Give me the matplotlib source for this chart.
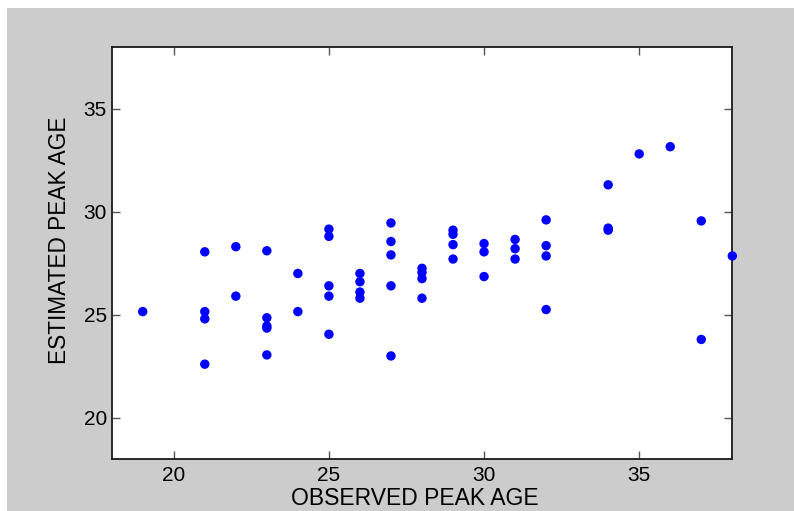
import matplotlib
matplotlib.use("Agg")
import matplotlib.pyplot as plt
from matplotlib.patches import Rectangle

# observed vs estimated peak age
observed = [19,
            21, 21, 21, 21,
            22, 22,
            23, 23, 23, 23, 23,
            24, 24,
            25, 25, 25, 25, 25,
            26, 26, 26, 26,
            27, 27, 27, 27, 27,
            28, 28, 28, 28,
            29, 29, 29, 29,
            30, 30, 30,
            31, 31, 31,
            32, 32, 32, 32,
            34, 34, 34,
            35, 36,
            37, 37,
            38]
estimated = [25.15,
             28.05, 25.15, 24.8, 22.6,
             28.3, 25.9,
             28.1, 24.85, 24.45, 24.35, 23.05,
             27.0, 25.15,
             29.15, 28.8, 26.4, 25.9, 24.05,
             27.0, 26.6, 26.1, 25.8,
             29.45, 28.55, 27.9, 26.4, 23.0,
             27.25, 27.05, 26.75, 25.8,
             29.1, 28.9, 28.4, 27.7,
             28.45, 28.05, 26.85,
             28.65, 28.2, 27.7,
             29.6, 28.35, 27.85, 25.25,
             31.3, 29.2, 29.1,
             32.8, 33.15,
             29.55, 23.8,
             27.85]

xticks = [20, 25, 30, 35]
yticks = [20, 25, 30, 35]

plt.rcParams['font.family'] = ['Liberation Sans', 'DejaVu Sans']

W, H = 794, 511
fig = plt.figure(figsize=(W / 100, H / 100), dpi=100)
fig.patch.set_facecolor('white')
# gray matlab-like figure background, with thin white strip top/left
fig.patches.append(Rectangle((7 / W, 0), 1, (H - 8) / H, transform=fig.transFigure,
                             facecolor='#cccccc', edgecolor='none', zorder=-10))

ax = fig.add_axes([111.7 / W, (H - 459) / H, 620.6 / W, 412.3 / H])
ax.set_facecolor('white')
ax.scatter(observed, estimated, s=46, color='#0000ff', edgecolors='none',
           clip_on=False, zorder=3)

ax.set_xlim(18, 38)
ax.set_ylim(18, 38)
ax.set_xticks(xticks)
ax.set_yticks(yticks)
ax.tick_params(direction='in', length=6, width=1, color='#555555',
               top=True, right=True, labelsize=15, labelcolor='black')
ax.tick_params(axis='x', pad=5)
ax.tick_params(axis='y', pad=3.5)
for sp in ax.spines.values():
    sp.set_linewidth(1.3)
    sp.set_color('#1a1a1a')

ax.set_xlabel('OBSERVED PEAK AGE', fontsize=16.5)
ax.set_ylabel('ESTIMATED PEAK AGE', fontsize=16.3)
ax.xaxis.set_label_coords(0.489, -0.068)
ax.yaxis.set_label_coords(-0.066, 0.531)

fig.savefig('out.png', dpi=100, facecolor=fig.get_facecolor())
